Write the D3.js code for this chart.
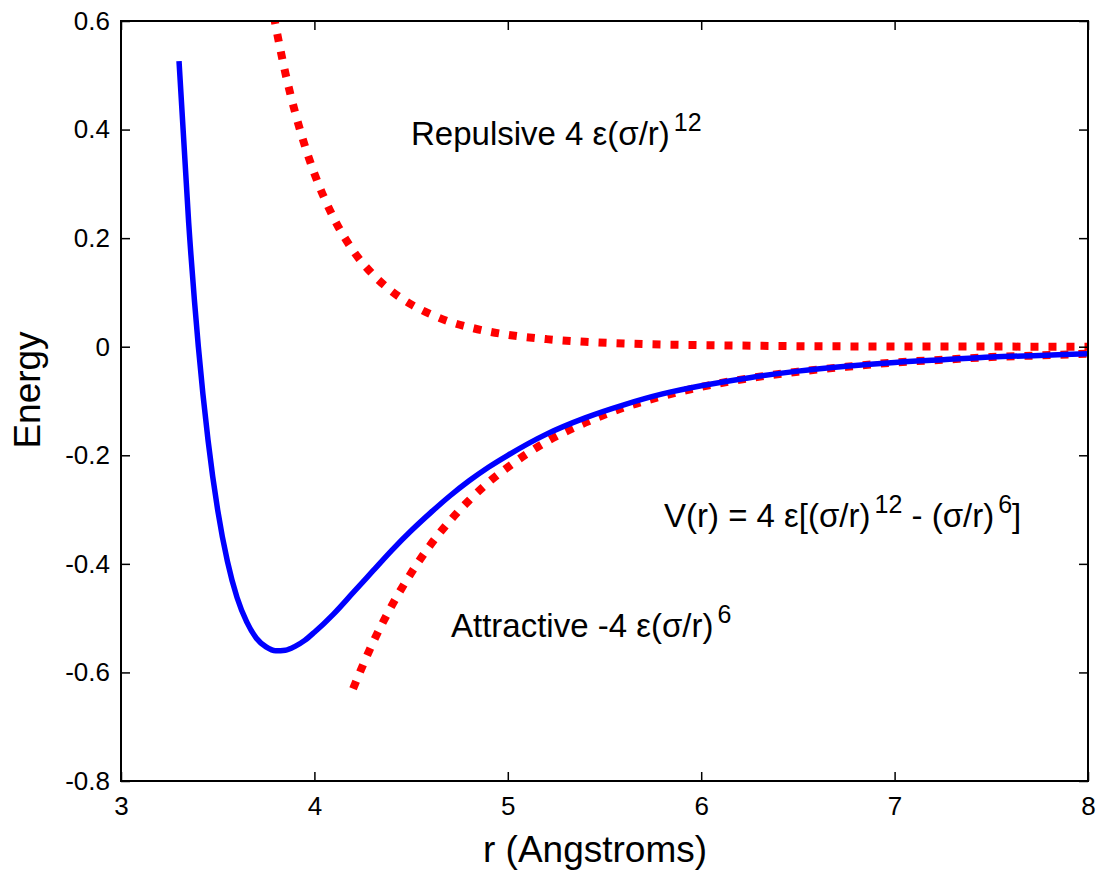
<!DOCTYPE html>
<html>
<head>
<meta charset="utf-8">
<script src="https://cdn.jsdelivr.net/npm/d3@7"></script>
<style>
  body { margin: 0; background: #fff; }
  svg text { font-family: "Liberation Sans", Arial, sans-serif; fill: #000; }
</style>
</head>
<body>
<svg id="canvas"></svg>
<script>
// values
let totalR = [3.3, 3.35, 3.4, 3.45, 3.5, 3.55, 3.6, 3.65, 3.7, 3.75, 3.8, 3.85, 3.9, 3.95, 4.0, 4.1, 4.2, 4.3, 4.4, 4.5, 4.6, 4.7, 4.8, 4.9, 5.0, 5.2, 5.4, 5.6, 5.8, 6.0, 6.25, 6.5, 6.75, 7.0, 7.25, 7.5, 7.75, 8.0]
let totalE = [0.526, 0.228, 0, -0.172, -0.301, -0.395, -0.462, -0.507, -0.537, -0.553, -0.560, -0.559, -0.552, -0.541, -0.526, -0.492, -0.453, -0.414, -0.375, -0.339, -0.306, -0.275, -0.247, -0.222, -0.200, -0.161, -0.131, -0.107, -0.087, -0.072, -0.057, -0.045, -0.036, -0.029, -0.024, -0.019, -0.016, -0.013]

let repR = [3.79, 3.85, 3.9, 3.95, 4.0, 4.1, 4.2, 4.3, 4.4, 4.5, 4.6, 4.7, 4.8, 4.9, 5.0, 5.2, 5.4, 5.6, 5.8, 6.0, 6.5, 7.0, 7.5, 8.0]
let repE = [0.609, 0.504, 0.432, 0.371, 0.319, 0.237, 0.177, 0.134, 0.102, 0.078, 0.060, 0.046, 0.036, 0.028, 0.022, 0.014, 0.009, 0.006, 0.004, 0.003, 0.001, 0.0004, 0.0002, 0.0001]

let attR = [4.2, 4.3, 4.4, 4.5, 4.6, 4.7, 4.8, 4.9, 5.0, 5.2, 5.4, 5.6, 5.8, 6.0, 6.25, 6.5, 6.75, 7.0, 7.25, 7.5, 7.75, 8.0]
let attE = [-0.630, -0.547, -0.477, -0.417, -0.365, -0.321, -0.283, -0.250, -0.222, -0.175, -0.140, -0.112, -0.091, -0.074, -0.058, -0.046, -0.037, -0.029, -0.024, -0.019, -0.016, -0.013]

let xTicks = [3, 4, 5, 6, 7, 8]
let yTicks = [-0.8, -0.6, -0.4, -0.2, 0, 0.2, 0.4, 0.6]

let width = 1099
let height = 871
let padL = 121, padR = 1088, padT = 21, padB = 781

let canvas = d3.select("#canvas")
    .attr("width", width)
    .attr("height", height)

let xScale = d3.scaleLinear().domain([3, 8]).range([padL, padR])
let yScale = d3.scaleLinear().domain([-0.8, 0.6]).range([padB, padT])

canvas.append("clipPath").attr("id", "clip")
    .append("rect")
    .attr("x", padL).attr("y", padT)
    .attr("width", padR - padL).attr("height", padB - padT)

let line = d3.line()
    .x(d => xScale(d[0]))
    .y(d => yScale(d[1]))
    .curve(d3.curveMonotoneX)

let plot = canvas.append("g").attr("clip-path", "url(#clip)")

plot.append("path")
    .datum(repR.map((r, i) => [r, repE[i]]))
    .attr("d", line)
    .attr("fill", "none")
    .attr("stroke", "#ff0000")
    .attr("stroke-width", 8)
    .attr("stroke-dasharray", "8 10")

plot.append("path")
    .datum(attR.map((r, i) => [r, attE[i]]))
    .attr("d", line)
    .attr("fill", "none")
    .attr("stroke", "#ff0000")
    .attr("stroke-width", 8)
    .attr("stroke-dasharray", "8 10")

plot.append("path")
    .datum(totalR.map((r, i) => [r, totalE[i]]))
    .attr("d", line)
    .attr("fill", "none")
    .attr("stroke", "#0000ff")
    .attr("stroke-width", 5.5)

// axes, matlab style box with inward ticks
let xAxis = d3.axisBottom(xScale).tickValues(xTicks).tickSize(-9).tickPadding(16).tickFormat(d3.format("d"))
let yAxis = d3.axisLeft(yScale).tickValues(yTicks).tickSize(-9).tickPadding(11).tickFormat(d => d === 0 ? "0" : d3.format(".1f")(d).replace("−", "-"))
let xTop = d3.axisTop(xScale).tickValues(xTicks).tickSize(-9).tickFormat("")
let yRight = d3.axisRight(yScale).tickValues(yTicks).tickSize(-9).tickFormat("")

let styleAxis = g => {
    g.select(".domain").remove()
    g.selectAll(".tick line").attr("stroke", "#000").attr("stroke-width", 1.5)
    g.selectAll(".tick text").style("font-size", "26px").attr("fill", "#000")
}

canvas.append("g").attr("transform", "translate(0," + padB + ")").call(xAxis).call(styleAxis)
canvas.append("g").attr("transform", "translate(" + padL + ",0)").call(yAxis).call(styleAxis)
canvas.append("g").attr("transform", "translate(0," + padT + ")").call(xTop).call(styleAxis)
canvas.append("g").attr("transform", "translate(" + padR + ",0)").call(yRight).call(styleAxis)

canvas.append("rect")
    .attr("x", padL).attr("y", padT)
    .attr("width", padR - padL).attr("height", padB - padT)
    .attr("fill", "none")
    .attr("stroke", "#000")
    .attr("stroke-width", 2)

// axis titles
canvas.append("text")
    .attr("x", 595)
    .attr("y", 862)
    .attr("text-anchor", "middle")
    .style("font-size", "37px")
    .text("r (Angstroms)")

canvas.append("text")
    .attr("transform", "translate(40,390) rotate(-90)")
    .attr("text-anchor", "middle")
    .style("font-size", "37px")
    .text("Energy")

// annotations
let note = (x, y, parts) => {
    let t = canvas.append("text").attr("x", x).attr("y", y).style("font-size", "33px")
    parts.forEach(p => {
        let s = t.append("tspan").text(p.t)
        if (p.sup) s.attr("dy", -14).attr("dx", 4).style("font-size", "25px")
        if (p.down) s.attr("dy", 14)
    })
}

note(411, 145, [{t: "Repulsive 4 ε(σ/r)"}, {t: "12", sup: true}])
note(664, 527, [{t: "V(r) = 4 ε[(σ/r)"}, {t: "12", sup: true}, {t: " - (σ/r)", down: true}, {t: "6", sup: true}, {t: "]", down: true}])
note(451, 637, [{t: "Attractive -4 ε(σ/r)"}, {t: "6", sup: true}])
</script>
</body>
</html>
